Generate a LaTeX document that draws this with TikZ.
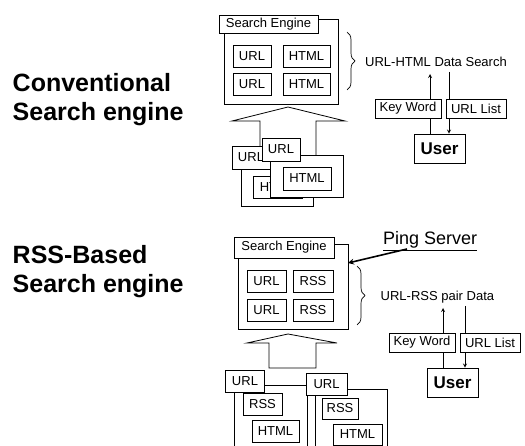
\documentclass[tikz,border=0pt]{standalone}
\usepackage{fontspec}
\setmainfont{Liberation Sans}
\usetikzlibrary{shapes,arrows,positioning,decorations.pathreplacing,backgrounds}

\begin{document}
\begin{tikzpicture}[x=1pt, y=-1pt]

% Define styles
\tikzstyle{box} = [rectangle, draw, fill=white, line width=0.8pt, inner sep=0pt, minimum height=22pt, font=\fontsize{13}{15}\selectfont]
\tikzstyle{doc} = [rectangle, draw, fill=white, line width=0.8pt, inner sep=0pt]
\tikzstyle{title} = [font=\fontsize{25}{29.5}\selectfont\bfseries, align=left, anchor=north west, inner sep=0pt]
\tikzstyle{txt} = [inner sep=0pt, font=\fontsize{13}{15}\selectfont]
\tikzstyle{arrow} = [->, >=stealth, line width=0.8pt]
\tikzstyle{bigarrow} = [draw, fill=white, line width=0.8pt]
\tikzstyle{curly} = [decorate, decoration={brace, amplitude=8pt}, line width=0.7pt]

\useasboundingbox (0,0) rectangle (525,446);
\clip (0,0) rectangle (525,446);

% Titles
\node [title] (conv) at (12.5,73) {Conventional\\Search engine};
\node [title] (rssbased) at (12.5,245) {RSS-Based\\Search engine};

% Conventional search engine
\node [doc, minimum width=114pt, minimum height=85pt] (engine1) at (281,61.5) {};
\node [box, minimum width=99pt, minimum height=18pt] (se1) at (268.5,24) {Search Engine};
\node [box, minimum width=38pt] (url1a) at (252,56) {URL};
\node [box, minimum width=47pt] (html1a) at (306.5,56) {HTML};
\node [box, minimum width=38pt] (url1b) at (252,84.5) {URL};
\node [box, minimum width=47pt] (html1b) at (306.5,84.5) {HTML};

\draw [bigarrow] (260,165) -- (260,121) -- (232,121) -- (288,107) -- (345,121) -- (316,121) -- (316,165) -- cycle;

% Crawled pages
\node [doc, minimum width=72pt, minimum height=49pt] (page1a) at (277,181.5) {};
\node [box, minimum width=49pt] (page1ahtml) at (277.5,187) {HTML};
\node [box, minimum width=38pt, minimum height=23pt] (page1aurl) at (251,157.5) {URL};
\node [doc, minimum width=73pt, minimum height=42pt] (page1b) at (306.5,176) {};
\node [box, minimum width=48pt, minimum height=23pt] (page1bhtml) at (307,178.5) {HTML};
\node [box, minimum width=38pt, minimum height=23pt] (page1burl) at (281,149.5) {URL};

% Search by user
\coordinate (brace1top) at (347,32);
\coordinate (brace1bot) at (347,90);
\draw [curly] (brace1top) -- (brace1bot);
\node [txt, anchor=west] (data1) at (365,62) {URL-HTML Data Search};

\node [box, minimum width=66pt, minimum height=19pt] (kw1) at (408,108.5) {Key Word};
\node [box, minimum width=60pt, minimum height=19pt] (list1) at (476,108.5) {URL List};
\node [box, minimum width=51pt, minimum height=29pt, font=\fontsize{17}{20}\selectfont\bfseries] (user1) at (439.5,148.5) {User};
\coordinate (up1) at (430,74);
\coordinate (down1) at (449,72);

\begin{pgfonlayer}{background}
\draw [arrow] (up1 |- user1.north) -- (up1);
\draw [arrow] (down1) -- (down1 |- user1.north);
\end{pgfonlayer}

% RSS-based search engine
\node [doc, minimum width=110pt, minimum height=85pt] (engine2) at (293,286.5) {};
\node [box, minimum width=100pt, minimum height=21pt] (se2) at (284,247.5) {Search Engine};
\node [box, minimum width=39pt] (url2a) at (266.5,281) {URL};
\node [box, minimum width=40pt] (rss2a) at (313,281) {RSS};
\node [box, minimum width=39pt] (url2b) at (266.5,310.5) {URL};
\node [box, minimum width=40pt] (rss2b) at (313,310.5) {RSS};

\draw [bigarrow] (269,368) -- (269,343) -- (247,343) -- (288,334) -- (337,343) -- (316,343) -- (316,368) -- cycle;

% Feeds
\node [doc, minimum width=73pt, minimum height=85pt] (feed2a) at (270.5,427.5) {};
\node [box, minimum width=39pt] (feed2aurl) at (245,381) {URL};
\node [box, minimum width=39pt] (feed2arss) at (262.5,404) {RSS};
\node [box, minimum width=47pt] (feed2ahtml) at (275.5,431) {HTML};
\node [doc, minimum width=72pt, minimum height=81pt] (feed2b) at (351,429.5) {};
\node [box, minimum width=41pt] (feed2burl) at (326.5,384) {URL};
\node [box, minimum width=36pt, minimum height=21pt] (feed2brss) at (340,408.5) {RSS};
\node [box, minimum width=49pt, minimum height=21pt] (feed2bhtml) at (357.5,434.5) {HTML};

% Ping server
\node [txt, anchor=base west, font=\fontsize{18}{21}\selectfont] (ping) at (383,245) {\underline{Ping Server}};
\coordinate (pingtail) at (407,249);
\coordinate (pinghead) at (348,263);
\draw [arrow, line width=1.6pt] (pingtail) -- (pinghead);

% Search by user
\coordinate (brace2top) at (357,266);
\coordinate (brace2bot) at (357,325);
\draw [curly] (brace2top) -- (brace2bot);
\node [txt, anchor=west] (data2) at (380.5,297) {URL-RSS pair Data};

\node [box, minimum width=66pt, minimum height=19pt] (kw2) at (422,342.5) {Key Word};
\node [box, minimum width=60pt, minimum height=19pt] (list2) at (490,342.5) {URL List};
\node [box, minimum width=51pt, minimum height=29pt, font=\fontsize{17}{20}\selectfont\bfseries] (user2) at (452.5,382.5) {User};
\coordinate (up2) at (443,308);
\coordinate (down2) at (465,306);

\begin{pgfonlayer}{background}
\draw [arrow] (up2 |- user2.north) -- (up2);
\draw [arrow] (down2) -- (down2 |- user2.north);
\end{pgfonlayer}

\end{tikzpicture}
\end{document}
